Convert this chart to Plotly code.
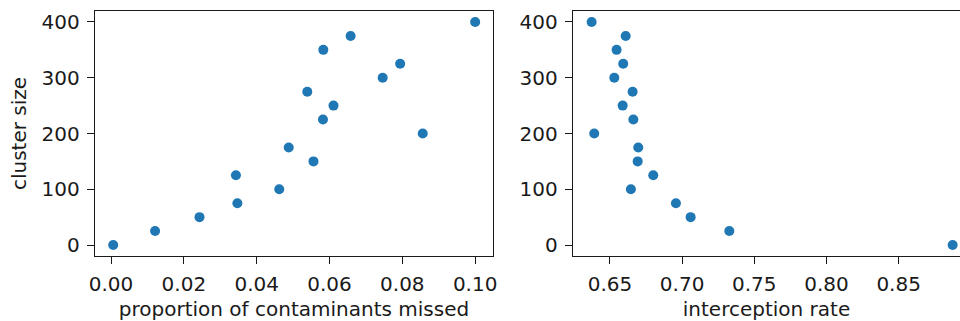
import plotly.graph_objects as go

cluster_size = [0, 25, 50, 75, 100, 125, 150, 175, 200, 225, 250, 275, 300, 325, 350, 375, 400]
prop_missed = [0.0006, 0.0121, 0.0243, 0.0347, 0.0462, 0.0343, 0.0556, 0.0488, 0.0856,
               0.0582, 0.0611, 0.0539, 0.0746, 0.0794, 0.0583, 0.0658, 0.1000]
interception = [0.8874, 0.7327, 0.7059, 0.6957, 0.6645, 0.6800, 0.6692, 0.6696, 0.6391,
                0.6662, 0.6588, 0.6657, 0.6530, 0.6592, 0.6546, 0.6609, 0.6373]

x1_ticks = [0.00, 0.02, 0.04, 0.06, 0.08, 0.10]
x2_ticks = [0.65, 0.70, 0.75, 0.80, 0.85]
y_ticks = [0, 100, 200, 300, 400]

W, H = 960, 321
blue = "#1f77b4"
fnt = dict(family="DejaVu Sans", size=20, color="#1a1a1a")

fig = go.Figure()
fig.add_trace(go.Scatter(x=prop_missed, y=cluster_size, mode="markers",
                         marker=dict(color=blue, size=10), xaxis="x", yaxis="y",
                         cliponaxis=False))
fig.add_trace(go.Scatter(x=interception, y=cluster_size, mode="markers",
                         marker=dict(color=blue, size=10), xaxis="x2", yaxis="y2",
                         cliponaxis=False))

axcommon = dict(showgrid=False, zeroline=False, showline=True, linecolor="#1a1a1a",
                linewidth=1.4, ticks="outside", ticklen=7, tickwidth=1.2,
                tickcolor="#1a1a1a", tickfont=fnt, automargin=False)

fig.update_layout(
    width=W, height=H,
    margin=dict(l=0, r=0, t=11, b=65),
    paper_bgcolor="white", plot_bgcolor="white",
    showlegend=False,
    font=fnt,
    xaxis=dict(domain=[95 / W, 493 / W], range=[-0.0044, 0.1049], anchor="y",
               tickvals=x1_ticks, ticktext=[f"{v:.2f}" for v in x1_ticks],
               mirror=True, ticklabelstandoff=3,
               title=dict(text="proportion of contaminants missed", font=fnt, standoff=7),
               **axcommon),
    yaxis=dict(domain=[0, 1], range=[-19.7, 419.7], anchor="x",
               tickvals=y_ticks, mirror=True, ticklabelstandoff=3,
               title=dict(text="cluster size", font=fnt, standoff=9),
               **axcommon),
    xaxis2=dict(domain=[573 / W, 1.0], range=[0.6244, 0.8925], anchor="y2",
                tickvals=x2_ticks, ticktext=[f"{v:.2f}" for v in x2_ticks],
                mirror=True, ticklabelstandoff=3,
                title=dict(text="interception rate", font=fnt, standoff=7),
                **axcommon),
    yaxis2=dict(domain=[0, 1], range=[-19.7, 419.7], anchor="x2",
                tickvals=y_ticks, mirror=False, ticklabelstandoff=3,
                **axcommon),
)

fig.write_html("out.html", config={"displayModeBar": False},
               post_script="document.body.style.margin='0';document.body.style.overflow='hidden';")
